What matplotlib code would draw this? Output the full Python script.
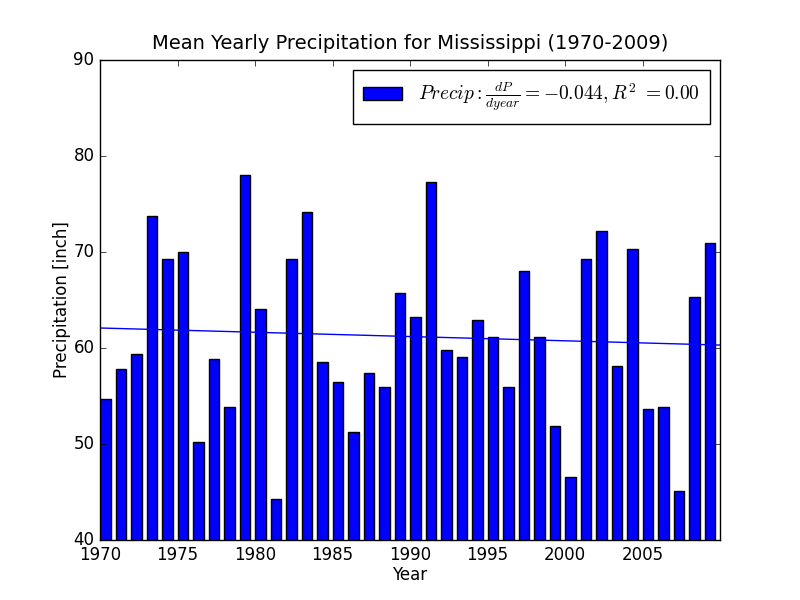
import matplotlib
matplotlib.use('Agg')
import matplotlib.pyplot as plt
import numpy as np

plt.style.use('classic')
plt.rcParams['mathtext.fontset'] = 'cm'

# yearly precipitation
years = np.arange(1970, 2010)
precip = [54.7, 57.8, 59.4, 73.8, 69.3, 70.0, 50.2, 58.9, 53.9, 78.0,
          64.1, 44.3, 69.3, 74.2, 58.5, 56.5, 51.2, 57.4, 55.9, 65.7,
          63.2, 77.3, 59.8, 59.1, 62.9, 61.1, 55.9, 68.0, 61.1, 51.9,
          46.6, 69.3, 72.2, 58.1, 70.3, 53.6, 53.9, 45.1, 65.3, 70.9]
slope_txt = '-0.044'
r2_txt = '0.00'

fig = plt.figure(figsize=(8, 6), dpi=100)
ax = fig.add_subplot(111)

label = r'$Precip: \frac{dP}{dyear} = ' + slope_txt + r', R^2\ = ' + r2_txt + '$'
ax.bar(years, precip, width=0.7, align='edge', color='b', edgecolor='k', label=label)

# linear trend
coef = np.polyfit(years, precip, 1)
xs = np.array([1970, 2010])
ax.plot(xs, np.polyval(coef, xs), color='b', lw=1)

ax.set_xlim(1970, 2010)
ax.set_ylim(40, 90)
ax.set_xticks(np.arange(1970, 2010, 5))
ax.ticklabel_format(axis='x', useOffset=False)
ax.set_xlabel('Year', labelpad=2)
ax.set_ylabel('Precipitation [inch]', labelpad=1.5)
ax.set_title('Mean Yearly Precipitation for Mississippi (1970-2009)', fontsize=14, pad=8)
ax.legend(loc='upper right', fontsize=14, handlelength=2.0, borderpad=0.55)

fig.savefig('out.png', dpi=100)
